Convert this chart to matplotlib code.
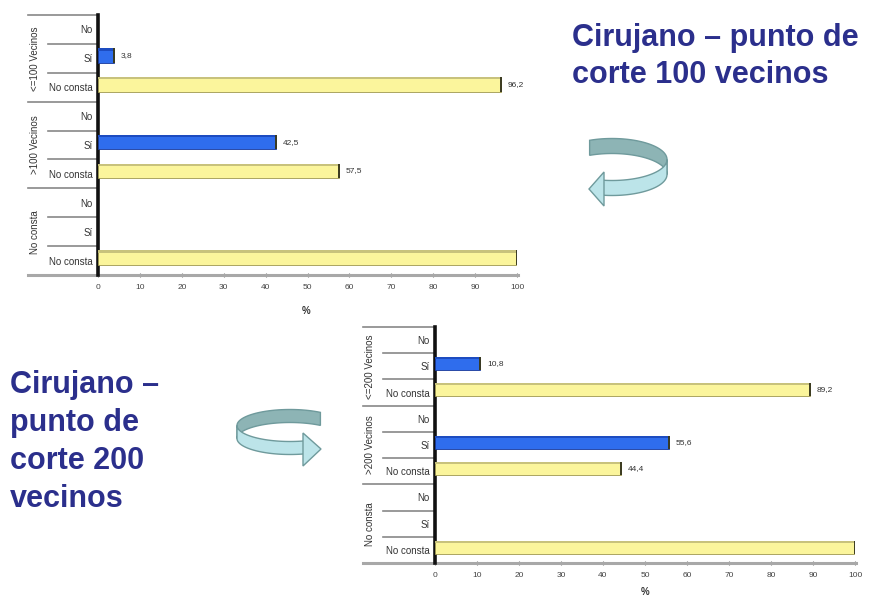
import numpy as np
import matplotlib
matplotlib.use("Agg")
import matplotlib.pyplot as plt
import matplotlib.transforms as mtransforms
from matplotlib.patches import Polygon

# rows of each chart, top to bottom
rows = ["No", "Sí", "No consta"] * 3
groups_100 = ["<=100 Vecinos", ">100 Vecinos", "No consta"]
groups_200 = ["<=200 Vecinos", ">200 Vecinos", "No consta"]
vals_100 = [0, 3.8, 96.2, 0, 42.5, 57.5, 0, 0, 100]
vals_200 = [0, 10.8, 89.2, 0, 55.6, 44.4, 0, 0, 100]
xticks = list(range(0, 101, 10))

title_100 = ["Cirujano – punto de", "corte 100 vecinos"]
title_200 = ["Cirujano –", "punto de", "corte 200", "vecinos"]

W, H = 870, 599
NAVY = "#2b2f8c"
FONT = "Liberation Sans"

fig = plt.figure(figsize=(W / 100, H / 100), dpi=100)


def px_axes(x0, y0, x1, y1):
    return fig.add_axes([x0 / W, 1 - y1 / H, (x1 - x0) / W, (y1 - y0) / H])


def draw_chart(x0, y_top, x100, y_bot, values, groups, outer_x, inner_x, group_x):
    ax = px_axes(x0, y_top, x100, y_bot)
    ax.set_xlim(0, 100)
    ax.set_ylim(8.5, -0.5)
    span = x100 - x0

    for i, v in enumerate(values):
        if v == 0:
            continue
        if rows[i] == "Sí":
            face, edge, top = "#2f6ded", "#18389a", "#1d4cc0"
        else:
            face, edge, top = "#fbf59c", "#9e9850", "#c8c27c"
        yc = i - 0.1
        ax.barh(yc, v, height=0.5, color=face, edgecolor=edge, linewidth=0.6, zorder=3)
        ax.barh(yc - 0.21, v, height=0.08, color=top, linewidth=0, zorder=4)
        ax.plot([v, v], [yc - 0.25, yc + 0.25], color="#3a3a20", lw=1.4, zorder=5,
                solid_capstyle="butt")
        if v < 100:
            ax.text(v + 1.6, yc, f"{v:.1f}".replace(".", ","), fontsize=6,
                    family=FONT, color="#333333", va="center", ha="left")

    ax.set_xticks(xticks)
    ax.set_xticklabels([str(t) for t in xticks], fontsize=6, family=FONT, color="#444444")
    ax.tick_params(axis="x", length=3, width=0.8, direction="inout", color="#777777", pad=5)
    ax.set_yticks(range(9))
    ax.set_yticklabels(rows, fontsize=7, family=FONT, color="#333333")
    ax.tick_params(axis="y", length=0, pad=4)

    for s in ["top", "right", "bottom"]:
        ax.spines[s].set_visible(False)
    ax.spines["left"].set_linewidth(2.6)
    ax.spines["left"].set_color("#111111")

    blend = mtransforms.blended_transform_factory(ax.transAxes, ax.transData)
    # x axis line runs under the label column as well
    ax.plot([(outer_x - x0) / span, 1.002], [8.5, 8.5], transform=blend,
            color="#a8a8a8", lw=2.2, clip_on=False, zorder=2)
    for yb in [-0.5, 2.5, 5.5]:
        ax.plot([(outer_x - x0) / span, 0], [yb, yb], transform=blend,
                color="#888888", lw=1.2, clip_on=False)
    for yb in [0.5, 1.5, 3.5, 4.5, 6.5, 7.5]:
        ax.plot([(inner_x - x0) / span, 0], [yb, yb], transform=blend,
                color="#888888", lw=1.2, clip_on=False)
    for g, name in enumerate(groups):
        ax.text((group_x - x0) / span, 3 * g + 1, name, transform=blend, rotation=90,
                fontsize=7, family=FONT, color="#333333", ha="center", va="center")
    return ax


draw_chart(98, 15, 517, 275, vals_100, groups_100, 28, 48, 35)
fig.text(306 / W, 1 - 311 / H, "%", fontsize=7, fontweight="bold", family=FONT,
         color="#333333", ha="center", va="center")
draw_chart(435, 327, 855, 563, vals_200, groups_200, 363, 383, 370)
fig.text(645 / W, 1 - 592 / H, "%", fontsize=7, fontweight="bold", family=FONT,
         color="#333333", ha="center", va="center")

for k, line in enumerate(title_100):
    fig.text(572 / W, 1 - (46 + 37 * k) / H, line, fontsize=22, fontweight="bold",
             family=FONT, color=NAVY, ha="left", va="baseline")
for k, line in enumerate(title_200):
    fig.text(10 / W, 1 - (393 + 38 * k) / H, line, fontsize=22, fontweight="bold",
             family=FONT, color=NAVY, ha="left", va="baseline")

# curved arrows, drawn in pixel space
ov = fig.add_axes([0, 0, 1, 1], zorder=-1)
ov.set_xlim(0, W)
ov.set_ylim(H, 0)
ov.axis("off")


def ribbon(cx, cy, a, b, h, t0, t1, color):
    t = np.radians(np.linspace(t0, t1, 80))
    x = cx + a * np.cos(t)
    y = cy - b * np.sin(t)
    pts = np.concatenate([np.column_stack([x, y - h / 2]),
                          np.column_stack([x[::-1], y[::-1] + h / 2])])
    ov.add_patch(Polygon(pts, closed=True, fc=color, ec="#6f9a9c", lw=1))


DARK_TEAL = "#8db4b5"
LIGHT_TEAL = "#bce4e9"

ribbon(612, 167, 55, 21, 15, 114, 0, DARK_TEAL)
ribbon(612, 167, 55, 21, 15, 0, -100, LIGHT_TEAL)
ov.add_patch(Polygon([(604, 172), (589, 189), (604, 206)], closed=True,
                     fc=LIGHT_TEAL, ec="#6f9a9c", lw=1))

ribbon(290, 432, 53, 16, 13, 55, 180, DARK_TEAL)
ribbon(290, 432, 53, 16, 13, 180, 286, LIGHT_TEAL)
ov.add_patch(Polygon([(303, 433), (321, 449), (303, 466)], closed=True,
                     fc=LIGHT_TEAL, ec="#6f9a9c", lw=1))

fig.savefig("out.png", dpi=100)
